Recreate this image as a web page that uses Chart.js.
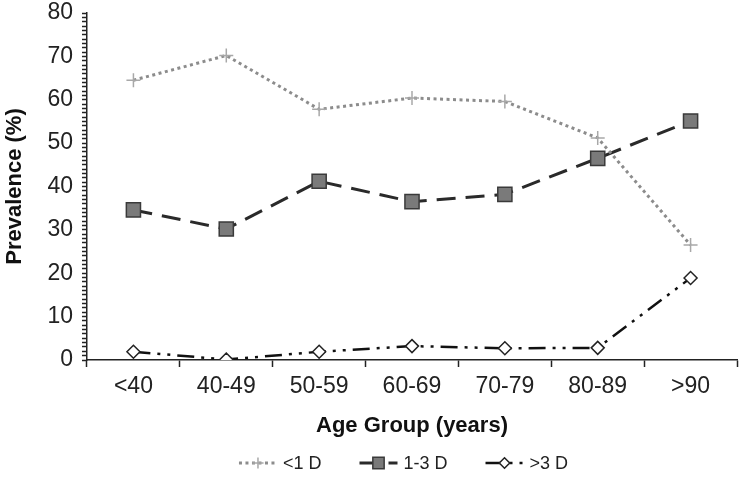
<!DOCTYPE html>
<html>
<head>
<meta charset="utf-8">
<script src="https://cdn.jsdelivr.net/npm/chart.js@4/dist/chart.umd.min.js"></script>
<style>
  html, body { margin: 0; padding: 0; background: #fff; }
  #wrap { width: 739px; height: 485px; position: relative; }
</style>
</head>
<body>
<div id="wrap"><canvas id="chart"></canvas></div>
<script>
const ageGroups = ['<40', '40-49', '50-59', '60-69', '70-79', '80-89', '>90'];
const lessThan1D = [64.5, 70.2, 57.8, 60.4, 59.6, 51.2, 26.5];
const oneTo3D = [34.6, 30.2, 41.2, 36.5, 38.2, 46.5, 55.1];
const moreThan3D = [1.9, 0.1, 1.9, 3.2, 2.7, 2.8, 18.9];
const seriesNames = ['<1 D', '1-3 D', '>3 D'];

const FONT = '"Liberation Sans", Arial, sans-serif';

// legend with a line sample and marker, like the original
const lineLegend = {
    id: 'lineLegend',
    afterDraw(chart) {
        const ctx = chart.ctx;
        const y = 463;
        const sample = 38;
        ctx.save();
        ctx.font = '18px ' + FONT;
        ctx.textBaseline = 'middle';
        const widths = chart.data.datasets.map(ds => sample + 6 + ctx.measureText(ds.label).width);
        const gap = 38;
        const total = widths.reduce((a, b) => a + b, 0) + gap * (widths.length - 1);
        let x = (chart.width - total) / 2 + 34;
        chart.data.datasets.forEach((ds, i) => {
            ctx.strokeStyle = ds.borderColor;
            ctx.lineWidth = ds.borderWidth;
            ctx.setLineDash(ds.borderDash || []);
            ctx.beginPath();
            ctx.moveTo(x, y);
            ctx.lineTo(x + sample, y);
            ctx.stroke();
            ctx.setLineDash([]);
            ctx.fillStyle = ds.pointBackgroundColor;
            ctx.strokeStyle = ds.pointBorderColor;
            ctx.lineWidth = ds.pointBorderWidth;
            Chart.helpers.drawPoint(ctx, {
                pointStyle: ds.pointStyle,
                radius: ds.pointRadius * 0.8,
                rotation: 0,
                borderWidth: ds.pointBorderWidth
            }, x + sample / 2, y);
            ctx.fillStyle = '#222';
            ctx.fillText(ds.label, x + sample + 6, y + 1);
            x += widths[i] + gap;
        });
        ctx.restore();
    }
};

new Chart(document.getElementById('chart'), {
    type: 'line',
    data: {
        labels: ageGroups,
        datasets: [
            {
                label: seriesNames[0],
                data: lessThan1D,
                borderColor: '#8c8c8c',
                borderWidth: 3,
                borderDash: [3, 3.5],
                pointStyle: 'cross',
                pointRadius: 7,
                pointBorderWidth: 1.5,
                pointBorderColor: '#a8a8a8',
                pointBackgroundColor: '#dddddd',
                tension: 0
            },
            {
                label: seriesNames[1],
                data: oneTo3D,
                borderColor: '#2a2a2a',
                borderWidth: 3,
                borderDash: [19, 10],
                pointStyle: 'rect',
                pointRadius: 10,
                pointBorderWidth: 1.5,
                pointBorderColor: '#3a3a3a',
                pointBackgroundColor: '#7a7a7a',
                tension: 0
            },
            {
                label: seriesNames[2],
                data: moreThan3D,
                borderColor: '#111111',
                borderWidth: 2.5,
                borderDash: [17, 7, 3, 7, 3, 7],
                pointStyle: 'rectRot',
                pointRadius: 6.5,
                pointBorderWidth: 1.5,
                pointBorderColor: '#222222',
                pointBackgroundColor: '#ffffff',
                tension: 0
            }
        ]
    },
    options: {
        responsive: true,
        maintainAspectRatio: false,
        animation: false,
        layout: { autoPadding: false, padding: { top: 13, right: 2, bottom: 46, left: 0 } },
        plugins: {
            legend: { display: false },
            tooltip: { enabled: false }
        },
        scales: {
            x: {
                offset: true,
                grid: {
                    offset: true,
                    drawOnChartArea: false,
                    drawTicks: true,
                    tickLength: 7,
                    tickColor: '#222',
                    tickWidth: 1.5
                },
                border: { display: true, color: '#222', width: 1.5 },
                ticks: {
                    color: '#222',
                    font: { family: FONT, size: 23 },
                    padding: 6,
                    maxRotation: 0,
                    autoSkip: false
                },
                title: {
                    display: true,
                    text: 'Age Group (years)',
                    color: '#111',
                    font: { family: FONT, size: 22, weight: 'bold' },
                    padding: { top: 4, bottom: 0 }
                },
                afterFit: s => {
                    s.height = 79;
                    s.paddingLeft = 0;
                    s.paddingRight = 0;
                }
            },
            y: {
                min: 0,
                max: 80,
                grid: {
                    drawOnChartArea: false,
                    drawTicks: true,
                    tickLength: 5,
                    tickColor: '#222',
                    tickWidth: 1.5
                },
                border: { display: true, color: '#222', width: 1.5 },
                ticks: {
                    stepSize: 1,
                    autoSkip: false,
                    color: '#222',
                    font: { family: FONT, size: 23 },
                    padding: 9,
                    callback: v => (v % 10 === 0 ? v : '')
                },
                title: {
                    display: true,
                    text: 'Prevalence (%)',
                    color: '#111',
                    font: { family: FONT, size: 22, weight: 'bold' },
                    padding: { top: 2, bottom: 2 }
                },
                afterFit: s => {
                    s.width = 87;
                    s.paddingTop = 0;
                    s.paddingBottom = 0;
                }
            }
        }
    },
    plugins: [lineLegend]
});
</script>
</body>
</html>
